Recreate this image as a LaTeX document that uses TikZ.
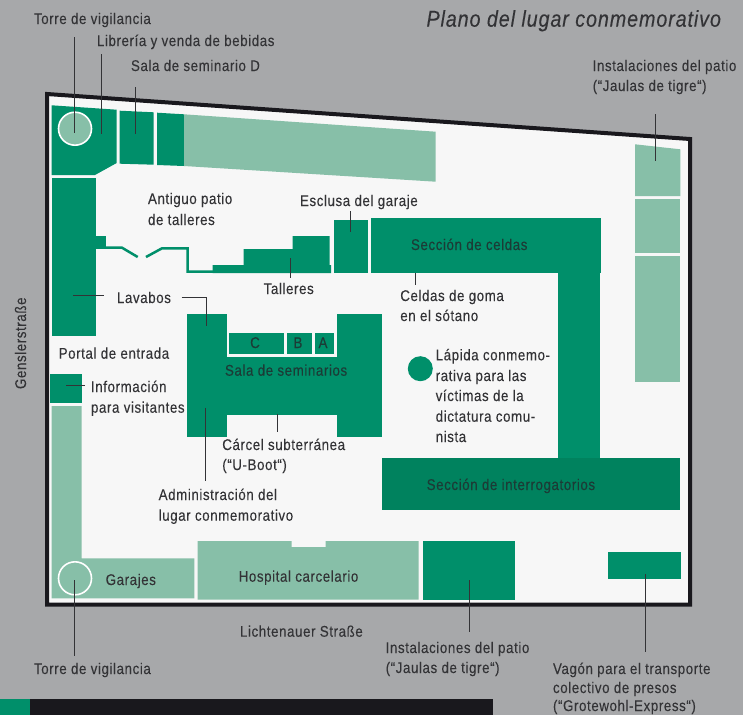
\documentclass[tikz,border=0pt]{standalone}
\usepackage{fontspec}
\setmainfont[FakeStretch=0.86,LetterSpace=3.8,FakeBold=0.12]{Liberation Sans}
\definecolor{bggrey}{HTML}{A7A8AA}
\definecolor{paper}{HTML}{F7F7F7}
\definecolor{gr}{HTML}{008F6A}
\definecolor{grd}{HTML}{00825E}
\definecolor{lgr}{HTML}{87BFA8}
\definecolor{ink}{HTML}{333336}
\definecolor{inkg}{HTML}{1C3B36}
\definecolor{blk}{HTML}{19181D}
\tikzset{
  lbl/.style={anchor=base west,inner sep=0pt,outer sep=0pt,text=ink,font=\fontsize{15.5}{15.5}\selectfont},
  lblg/.style={lbl,text=inkg},
  leader/.style={draw=ink,line width=1pt},
  dk/.style={fill=gr,draw=none},
  lt/.style={fill=lgr,draw=none},
  wall/.style={draw=gr,line width=2.5pt,line join=miter},
  tower/.style={circle,draw=white,line width=1.6pt,fill=lgr,minimum size=33pt,inner sep=0pt}
}
\begin{document}
\begin{tikzpicture}[x=1pt,y=-1pt]
\useasboundingbox (0,0) rectangle (743,715);
\fill[bggrey] (0,0) rectangle (743,715);
% footer
\fill[gr] (0,699) rectangle (30,715);
\fill[blk] (30,699) rectangle (492.5,715);
% site
\draw[draw=blk,fill=paper,line width=4pt,line join=miter] (47,94) -- (690,139) -- (690,604.5) -- (47,604.5) -- cycle;
% top row
\fill[dk] (51.7,105.3) -- (116.7,109.7) -- (116.7,163) -- (95,175) -- (51.7,175) -- cycle;
\fill[dk] (119.7,110.7) -- (153.7,112.3) -- (153.7,164.7) -- (119.7,163.7) -- cycle;
\fill[dk] (157,112.7) -- (184,114.3) -- (184,166) -- (157,165) -- cycle;
\fill[lt] (184,114.3) -- (435.7,131.7) -- (435.7,181.7) -- (184,166) -- cycle;
\node[tower] (t1) at (75,128.7) {};
% left column
\fill[dk] (51.7,178) rectangle (95.7,335.7);
\fill[dk] (95.7,236) rectangle (105.5,248);
% wall with gate
\draw[wall] (95.7,247.7) -- (122,247.7) -- (137.7,257);
\draw[wall] (146,257) -- (162,248.3) -- (187.7,248.3) -- (187.7,271.7) -- (213,271.7);
% workshops
\fill[dk] (212.7,273) -- (212.7,265) -- (243.7,265) -- (243.7,249) -- (292.7,249) -- (292.7,236) -- (329.7,236) -- (329.7,265) -- (331,265) -- (331,273) -- cycle;
\fill[dk] (333.7,220) rectangle (368.3,273);
% cells + interrogation
\fill[dk] (371,218) rectangle (600.7,273);
\fill[dk] (557.7,273) rectangle (599.7,458);
\fill[grd] (381.7,458) rectangle (679.7,509.7);
% right column
\fill[lt] (635,144.3) -- (680.3,149.3) -- (680.3,196) -- (635,196) -- cycle;
\fill[lt] (635,199) rectangle (680.3,253);
\fill[lt] (635,256) rectangle (680.3,381.7);
% seminar block
\fill[dk] (186.7,314) rectangle (226.7,436.7);
\fill[dk] (336.7,314) rectangle (381.7,436.7);
\fill[dk] (226.7,356.7) rectangle (336.7,415);
\fill[dk] (228.7,333) rectangle (283.7,353.7);
\fill[dk] (286.7,333) rectangle (311.7,353.7);
\fill[dk] (314.7,333) rectangle (333.7,353.7);
% memorial
\node[circle,fill=gr,minimum size=25pt,inner sep=0pt] (stone) at (420.3,368.7) {};
% lower left
\fill[dk] (50.3,374) rectangle (81.7,402.7);
\fill[lt] (51.7,406) -- (81.7,406) -- (81.7,558.3) -- (194.3,558.3) -- (194.3,598.3) -- (51.7,598.3) -- cycle;
\node[tower] (t2) at (75,578.3) {};
% bottom row
\fill[lt] (197.7,541) -- (291.7,541) -- (291.7,547) -- (325.7,547) -- (325.7,541) -- (418.7,541) -- (418.7,599.7) -- (197.7,599.7) -- cycle;
\fill[dk] (422.7,541) rectangle (514.7,599.7);
\fill[dk] (607.7,552) rectangle (680.7,578.7);
% leaders
\draw[leader] (74,37) -- (74,132.7);
\draw[leader] (101,54) -- (101,134);
\draw[leader] (135.7,87) -- (135.7,134);
\draw[leader] (350.7,211) -- (350.7,232);
\draw[leader] (290,258) -- (290,278);
\draw[leader] (73.3,295.7) -- (104.3,295.7);
\draw[leader] (181.7,297.5) -- (206.7,297.5) -- (206.7,325.7);
\draw[leader] (66.3,385) -- (85.3,385);
\draw[leader] (205.3,407.7) -- (205.3,480.7);
\draw[leader] (277.3,414.3) -- (277.3,431.7);
\draw[leader] (415,273) -- (415,285);
\draw[leader] (655.7,114) -- (655.7,161);
\draw[leader] (74,580) -- (74,656);
\draw[leader] (469.7,580) -- (469.7,632);
\draw[leader] (645,574) -- (645,652);
% labels
\node[lbl,anchor=base east,font=\fontsize{23}{23}\selectfont\itshape] (title) at (721,26.7) {Plano del lugar conmemorativo};
\node[lbl] (l1) at (34,24) {Torre de vigilancia};
\node[lbl] (l2) at (97,46) {Librería y venda de bebidas};
\node[lbl] (l3) at (131,71) {Sala de seminario D};
\node[lbl] (l4a) at (148,204) {Antiguo patio};
\node[lbl] (l4b) at (148,225) {de talleres};
\node[lbl] (l5) at (300,206) {Esclusa del garaje};
\node[lbl] (l6a) at (592.7,71) {Instalaciones del patio};
\node[lbl] (l6b) at (592.7,91) {(“Jaulas de tigre“)};
\node[lblg] (l7) at (411,250) {Sección de celdas};
\node[lbl] (l8) at (263.7,294) {Talleres};
\node[lbl] (l9a) at (400.3,301) {Celdas de goma};
\node[lbl] (l9b) at (400.3,321) {en el sótano};
\node[lbl] (l10) at (117,303) {Lavabos};
\node[lbl] (l11) at (58.7,358.7) {Portal de entrada};
\node[lbl] (l12a) at (91,392) {Información};
\node[lbl] (l12b) at (91,412.7) {para visitantes};
\node[lblg] (l13) at (225,375.7) {Sala de seminarios};
\node[lblg,anchor=base] (rc) at (255,348) {C};
\node[lblg,anchor=base] (rb) at (298,348) {B};
\node[lblg,anchor=base] (ra) at (323,348) {A};
\node[lbl] (l14a) at (222.3,450) {Cárcel subterránea};
\node[lbl] (l14b) at (222.3,470) {(“U-Boot“)};
\node[lbl] (l15a) at (158.7,500) {Administración del};
\node[lbl] (l15b) at (158.7,520.7) {lugar conmemorativo};
\node[lbl] (l16a) at (435.7,360.3) {Lápida conmemo-};
\node[lbl] (l16b) at (435.7,381) {rativa para las};
\node[lbl] (l16c) at (435.7,401) {víctimas de la};
\node[lbl] (l16d) at (435.7,421.7) {dictatura comu-};
\node[lbl] (l16e) at (435.7,442) {nista};
\node[lblg] (l17) at (426.7,490) {Sección de interrogatorios};
\node[lbl,rotate=90] (l18) at (26,389) {Genslerstraße};
\node[lbl] (l19) at (105.7,585) {Garajes};
\node[lbl] (l20) at (238.7,581.7) {Hospital carcelario};
\node[lbl] (l21) at (240,636.7) {Lichtenauer Straße};
\node[lbl] (l22) at (34,674) {Torre de vigilancia};
\node[lbl] (l23a) at (385.7,653) {Instalaciones del patio};
\node[lbl] (l23b) at (385.7,673) {(“Jaulas de tigre“)};
\node[lbl] (l24a) at (553,674) {Vagón para el transporte};
\node[lbl] (l24b) at (553,693) {colectivo de presos};
\node[lbl] (l24c) at (553,711) {(“Grotewohl-Express“)};
\end{tikzpicture}
\end{document}
